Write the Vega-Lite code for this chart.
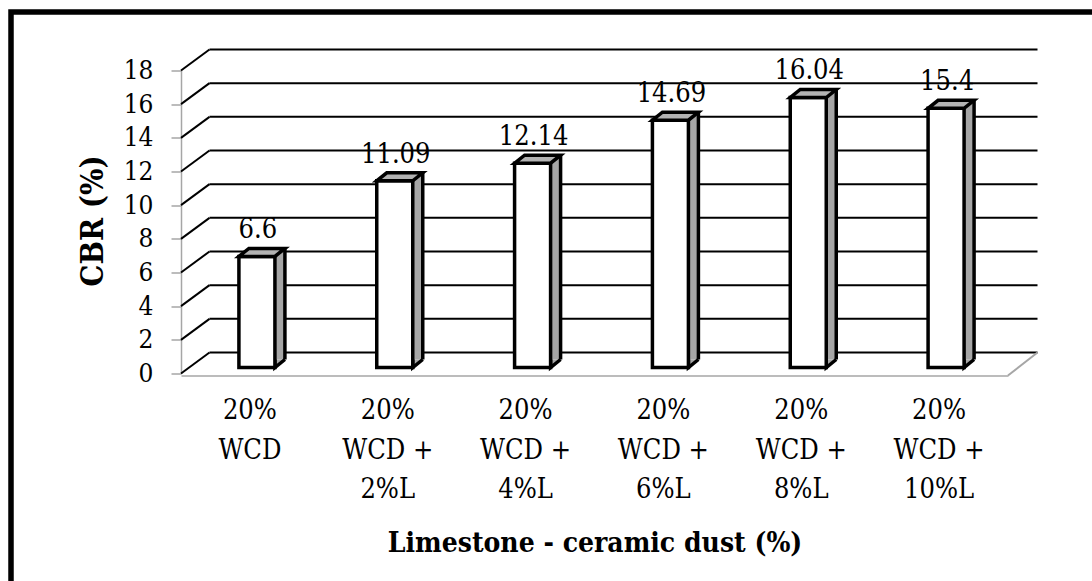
{
  "$schema": "https://vega.github.io/schema/vega-lite/v6.json",
  "width": 827,
  "height": 303,
  "autosize": {"type": "none"},
  "padding": {"left": 181, "top": 70.5, "right": 84, "bottom": 207.5},
  "background": "white",
  "config": {
    "view": {"stroke": null},
    "font": "DejaVu Serif Condensed",
    "axisY": {
      "grid": false,
      "tickCount": 9,
      "titleFont": "DejaVu Serif Condensed",
      "titleFontSize": 31,
      "titleFontWeight": "bold",
      "titleColor": "black",
      "titleAngle": -90,
      "titleAlign": "center",
      "titleBaseline": "middle",
      "titleX": -88,
      "titleY": 150,
      "labelFont": "DejaVu Serif Condensed",
      "labelFontSize": 26,
      "labelColor": "black",
      "labelPadding": 18,
      "tickSize": 10,
      "tickColor": "#a6a6a6",
      "tickWidth": 1.5,
      "domainColor": "#a6a6a6",
      "domainWidth": 1.5
    }
  },
  "datasets": {
    "cbr": [
      {"mix": "20% WCD", "cbr": 6.6},
      {"mix": "20% WCD + 2%L", "cbr": 11.09},
      {"mix": "20% WCD + 4%L", "cbr": 12.14},
      {"mix": "20% WCD + 6%L", "cbr": 14.69},
      {"mix": "20% WCD + 8%L", "cbr": 16.04},
      {"mix": "20% WCD + 10%L", "cbr": 15.4}
    ],
    "grid": [
      {"v": 0}, {"v": 2}, {"v": 4}, {"v": 6}, {"v": 8},
      {"v": 10}, {"v": 12}, {"v": 14}, {"v": 16}, {"v": 18}
    ]
  },
  "resolve": {"scale": {"x": "independent"}},
  "layer": [
    {
      "data": {"name": "grid"},
      "encoding": {
        "x": {"datum": 0, "type": "quantitative", "scale": {"domain": [0, 1]}, "axis": null},
        "y": {"field": "v", "type": "quantitative", "scale": {"domain": [0, 18], "nice": false}, "title": "CBR (%)"}
      },
      "layer": [
        {
          "mark": {"type": "rule", "color": "black", "strokeWidth": 2, "xOffset": 28.5, "x2Offset": 29.5, "yOffset": -21},
          "encoding": {"x2": {"datum": 1}}
        },
        {
          "mark": {"type": "rule", "color": "black", "strokeWidth": 2, "x2Offset": 28.5, "y2Offset": -21},
          "encoding": {"x2": {"datum": 0}, "y2": {"field": "v"}}
        },
        {
          "transform": [{"filter": "datum.v == 0"}],
          "mark": {"type": "rule", "color": "#a6a6a6", "strokeWidth": 2, "yOffset": 2, "x2Offset": 29.5, "y2Offset": -21},
          "encoding": {"x": {"datum": 1, "type": "quantitative"}, "x2": {"datum": 1}, "y2": {"field": "v"}}
        },
        {
          "transform": [{"filter": "datum.v == 0"}],
          "mark": {"type": "rect", "fill": null, "stroke": "black", "strokeWidth": 5.5},
          "encoding": {
            "x": {"value": -170},
            "x2": {"value": 1000},
            "y": {"value": -58.5},
            "y2": {"value": 600}
          }
        }
      ]
    },
    {
      "data": {"name": "cbr"},
      "encoding": {
        "x": {
          "field": "mix",
          "type": "nominal",
          "sort": null,
          "scale": {"paddingInner": 0, "paddingOuter": 0},
          "axis": {
            "title": "Limestone - ceramic dust (%)",
            "titleFont": "DejaVu Serif Condensed",
            "titleFontSize": 28,
            "titleFontWeight": "bold",
            "titleColor": "black",
            "titleY": 176,
            "titleBaseline": "alphabetic",
            "labelExpr": "split(replace(replace(datum.label, '% ', '%|'), '+ ', '+|'), '|')",
            "labelAngle": 0,
            "labelFont": "DejaVu Serif Condensed",
            "labelFontSize": 27,
            "labelColor": "black",
            "labelLineHeight": 39.5,
            "labelBaseline": "top",
            "labelPadding": 22,
            "labelOverlap": false,
            "labelBound": false,
            "ticks": false,
            "offset": 2,
            "domainColor": "#a6a6a6",
            "domainWidth": 1.5
          }
        },
        "y": {"field": "cbr", "type": "quantitative", "scale": {"domain": [0, 18], "nice": false}, "title": "CBR (%)"}
      },
      "layer": [
        {
          "mark": {"type": "bar", "width": 10, "xOffset": 30, "yOffset": -14, "y2Offset": -14, "fill": "#a6a6a6", "stroke": null},
          "encoding": {"y2": {"datum": 0}}
        },
        {
          "mark": {"type": "point", "shape": "M0,-8 L0,0 L10,-8", "size": 4, "filled": true, "fill": "#a6a6a6", "stroke": "black", "strokeWidth": 3.5, "opacity": 1, "xOffset": 25, "yOffset": -6},
          "encoding": {"y": {"datum": 0, "type": "quantitative", "title": "CBR (%)"}}
        },
        {
          "mark": {"type": "bar", "width": 36, "xOffset": 7, "yOffset": -6, "y2Offset": -6, "fill": "white", "stroke": "black", "strokeWidth": 3.5},
          "encoding": {"y2": {"datum": 0}}
        },
        {
          "mark": {"type": "point", "shape": "M-18,0 L18,0 L28,-8 L-8,-8 Z", "size": 4, "filled": true, "fill": "#b3b3b3", "stroke": "black", "strokeWidth": 3.5, "opacity": 1, "xOffset": 7, "yOffset": -6},
          "encoding": {}
        },
        {
          "mark": {"type": "rule", "color": "black", "strokeWidth": 3.5, "xOffset": 35, "yOffset": -14, "y2Offset": -14},
          "encoding": {"y2": {"datum": 0}}
        },
        {
          "mark": {"type": "text", "font": "DejaVu Serif Condensed", "fontSize": 27, "color": "black", "baseline": "alphabetic", "align": "center", "dx": 8, "dy": -24},
          "encoding": {"text": {"field": "cbr", "type": "quantitative", "format": ".4~"}}
        }
      ]
    }
  ]
}
